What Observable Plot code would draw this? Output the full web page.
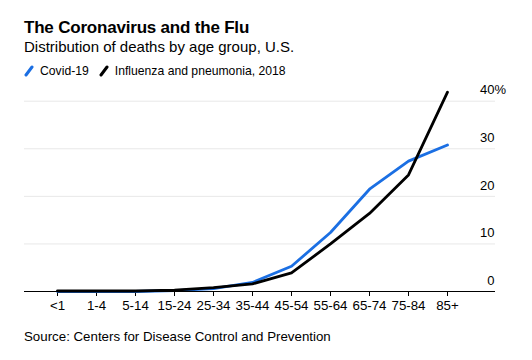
<!DOCTYPE html>
<html>
<head>
<meta charset="utf-8">
<script src="https://cdn.jsdelivr.net/npm/d3@7"></script>
<script src="https://cdn.jsdelivr.net/npm/@observablehq/plot@0.6"></script>
<style>
  body { margin: 0; background: #fff; font-family: "Liberation Sans", Arial, sans-serif; color: #000; }
  #wrap { position: relative; width: 532px; height: 360px; overflow: hidden; }
  .title { position: absolute; left: 24px; top: 18px; font-size: 17px; font-weight: bold; letter-spacing: -0.2px; }
  .subtitle { position: absolute; left: 24px; top: 38px; font-size: 15px; }
  .legend { position: absolute; left: 24px; top: 64px; font-size: 12.2px; display: flex; align-items: center; }
  .legend .item { display: flex; align-items: center; margin-right: 10px; }
  .legend svg { margin-right: 6px; }
  #chart { position: absolute; left: 0; top: 80px; }
  .source { position: absolute; left: 24px; top: 329px; font-size: 13.3px; }
</style>
</head>
<body>
<div id="wrap">
  <div class="title">The Coronavirus and the Flu</div>
  <div class="subtitle">Distribution of deaths by age group, U.S.</div>
  <div class="legend">
    <span class="item"><svg width="10" height="12"><line x1="2" y1="10" x2="8" y2="2" stroke="#1b6fe3" stroke-width="3" stroke-linecap="round"/></svg>Covid-19</span>
    <span class="item"><svg width="10" height="12"><line x1="2" y1="10" x2="8" y2="2" stroke="#000" stroke-width="3" stroke-linecap="round"/></svg>Influenza and pneumonia, 2018</span>
  </div>
  <div id="chart"></div>
  <div class="source">Source: Centers for Disease Control and Prevention</div>
</div>
<script>
const ageGroups = ["<1", "1-4", "5-14", "15-24", "25-34", "35-44", "45-54", "55-64", "65-74", "75-84", "85+"];
const covid = [0.0, 0.0, 0.0, 0.2, 0.6, 1.9, 5.3, 12.4, 21.5, 27.4, 30.8];
const flu = [0.1, 0.1, 0.1, 0.3, 0.8, 1.6, 3.9, 10.0, 16.4, 24.5, 41.9];
const yTicks = [0, 10, 20, 30, 40];
const seriesNames = ["Covid-19", "Influenza and pneumonia, 2018"];
const seriesColors = ["#1b6fe3", "#000000"];

const data = [];
ageGroups.forEach((a, i) => {
  data.push({age: a, series: seriesNames[1], value: flu[i]});
});
ageGroups.forEach((a, i) => {
  data.push({age: a, series: seriesNames[0], value: covid[i]});
});
const covidData = data.filter(d => d.series === seriesNames[0]);
const fluData = data.filter(d => d.series === seriesNames[1]);

const chart = Plot.plot({
  width: 532,
  height: 240,
  marginLeft: 24,
  marginRight: 37,
  marginTop: 20.7,
  marginBottom: 29,
  style: { fontFamily: "'Liberation Sans', Arial, sans-serif", fontSize: "13px", color: "#000", background: "transparent" },
  x: { type: "point", domain: ageGroups, range: [56, 448], padding: 0, axis: null },
  y: { domain: [0, 40], axis: null },
  color: { domain: seriesNames, range: seriesColors },
  marks: [
    Plot.ruleY(yTicks.filter(t => t > 0), { stroke: "#e8e8e8", strokeWidth: 1 }),
    Plot.text(yTicks, { y: d => d, frameAnchor: "right", textAnchor: "end", dx: -1, dy: -11, text: d => String(d), fontSize: 13 }),
    Plot.text(yTicks.filter(t => t === 40), { y: d => d, frameAnchor: "right", textAnchor: "start", dx: -1, dy: -11, text: () => "%", fontSize: 13 }),
    Plot.axisX({ domain: ageGroups, tickSize: 5, tickPadding: 4, stroke: "#000", fontSize: 13.3, label: null }),
    Plot.line(covidData, { x: "age", y: "value", stroke: seriesColors[0], strokeWidth: 2.8, strokeLinejoin: "round" }),
    Plot.line(fluData, { x: "age", y: "value", stroke: seriesColors[1], strokeWidth: 2.8, strokeLinejoin: "round" }),
    Plot.ruleY([0], { stroke: "#000", strokeWidth: 1.2 })
  ]
});
document.getElementById("chart").appendChild(chart);
</script>
</body>
</html>
